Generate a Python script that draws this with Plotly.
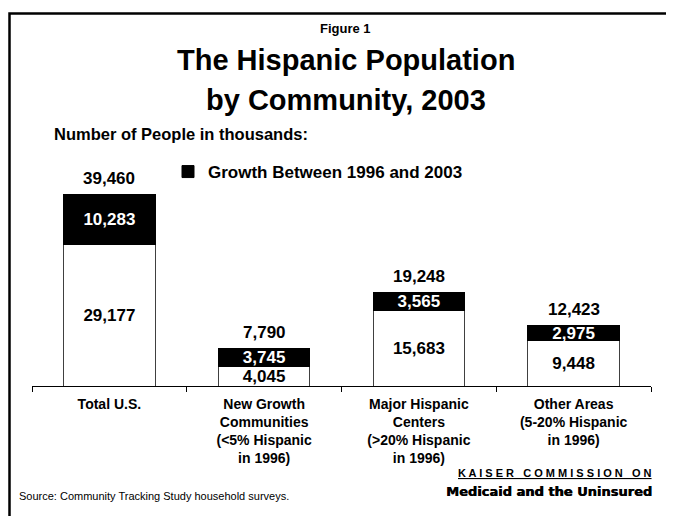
import plotly.graph_objects as go

# ---- data ----
categories = [
    "Total U.S.",
    "New Growth<br>Communities<br>(&lt;5% Hispanic<br>in 1996)",
    "Major Hispanic<br>Centers<br>(&gt;20% Hispanic<br>in 1996)",
    "Other Areas<br>(5-20% Hispanic<br>in 1996)",
]
population_1996 = [29177, 4045, 15683, 9448]
growth_1996_2003 = [10283, 3745, 3565, 2975]
total_2003 = [39460, 7790, 19248, 12423]

growth_name = "Growth Between 1996 and 2003"

# ---- layout geometry (page pixels; the page body adds an 8px margin) ----
OFF = 8
PAGE_W, PAGE_H = 674, 516
W, H = PAGE_W - OFF, PAGE_H - OFF
L, R, T, B = 32, 651, 170, 386          # plot area in page pixels
PW, PH = R - L, B - T
FONT = "Arial, Liberation Sans, sans-serif"


def px(x):
    return (x - L) / PW


def py(y):
    return (B - y) / PH


fig = go.Figure()

fig.add_trace(go.Bar(
    x=categories, y=population_1996,
    name="1996",
    marker=dict(color="white", line=dict(color="#404040", width=1)),
    text=[f"{v:,}" for v in population_1996],
    textposition="inside", insidetextanchor="middle",
    textfont=dict(family=FONT, size=17, color="black", weight="bold"),
    constraintext="none", textangle=0,
    width=0.59, showlegend=False, hoverinfo="skip",
))
fig.add_trace(go.Bar(
    x=categories, y=growth_1996_2003,
    name=growth_name,
    marker=dict(color="black", line=dict(color="black", width=1)),
    text=[f"{v:,}" for v in growth_1996_2003],
    textposition="inside", insidetextanchor="middle",
    textfont=dict(family=FONT, size=17, color="white", weight="bold"),
    constraintext="none", textangle=0,
    width=0.59, showlegend=True, hoverinfo="skip",
))

annotations = []
for c, t in zip(categories, total_2003):
    annotations.append(dict(
        x=c, y=t, xref="x", yref="y", text=f"{t:,}", showarrow=False,
        yanchor="middle", yshift=16,
        font=dict(family=FONT, size=17, color="black", weight="bold"),
    ))


def note(text, x, y, size, xanchor="center", weight="bold", family=FONT, **fontkw):
    annotations.append(dict(
        x=px(x), y=py(y), xref="paper", yref="paper", text=text,
        showarrow=False, xanchor=xanchor, yanchor="middle",
        font=dict(family=family, size=size, color="black", weight=weight, **fontkw),
    ))


note("Figure 1", 345, 28, 13)
note("The Hispanic Population", 346, 60, 29)
note("by Community, 2003", 346, 100, 29)
note("Number of People in thousands:", 52, 134, 16.5, xanchor="left")
note("Source: Community Tracking Study household surveys.", 17, 496, 11,
     xanchor="left", weight="normal")
note("K A I S E R   C O M M I S S I O N   O N", 654, 473, 11, xanchor="right",
     lineposition="under")
note("Medicaid and the Uninsured", 654, 491, 13, xanchor="right",
     family="DejaVu Sans, sans-serif", shadow="0.6px 0px 0px black")

fig.update_layout(
    width=W, height=H,
    margin=dict(l=L - OFF, r=PAGE_W - R, t=T - OFF, b=PAGE_H - B,
                autoexpand=False),
    paper_bgcolor="white", plot_bgcolor="white",
    barmode="stack",
    font=dict(family=FONT, color="black"),
    showlegend=True,
    legend=dict(
        x=px(168), y=py(172), xanchor="left", yanchor="middle",
        font=dict(family=FONT, size=17, color="black", weight="bold"),
        bgcolor="rgba(0,0,0,0)", borderwidth=0,
    ),
    annotations=annotations,
    shapes=[dict(
        type="path", xref="paper", yref="paper",
        path=f"M {px(9.5)} {py(540)} L {px(9.5)} {py(13.5)} L {px(700)} {py(13.5)}",
        line=dict(color="black", width=2.5),
    )],
)

fig.update_xaxes(
    type="category",
    showline=True, linecolor="black", linewidth=1,
    ticks="outside", tickson="boundaries", ticklen=5, tickcolor="black",
    ticklabelstandoff=5,
    tickfont=dict(family=FONT, size=14, color="black", weight="bold"),
    showgrid=False, zeroline=False,
)
fig.update_yaxes(range=[0, 44600], visible=False, showgrid=False, zeroline=False)

fig.write_html("out.html")
